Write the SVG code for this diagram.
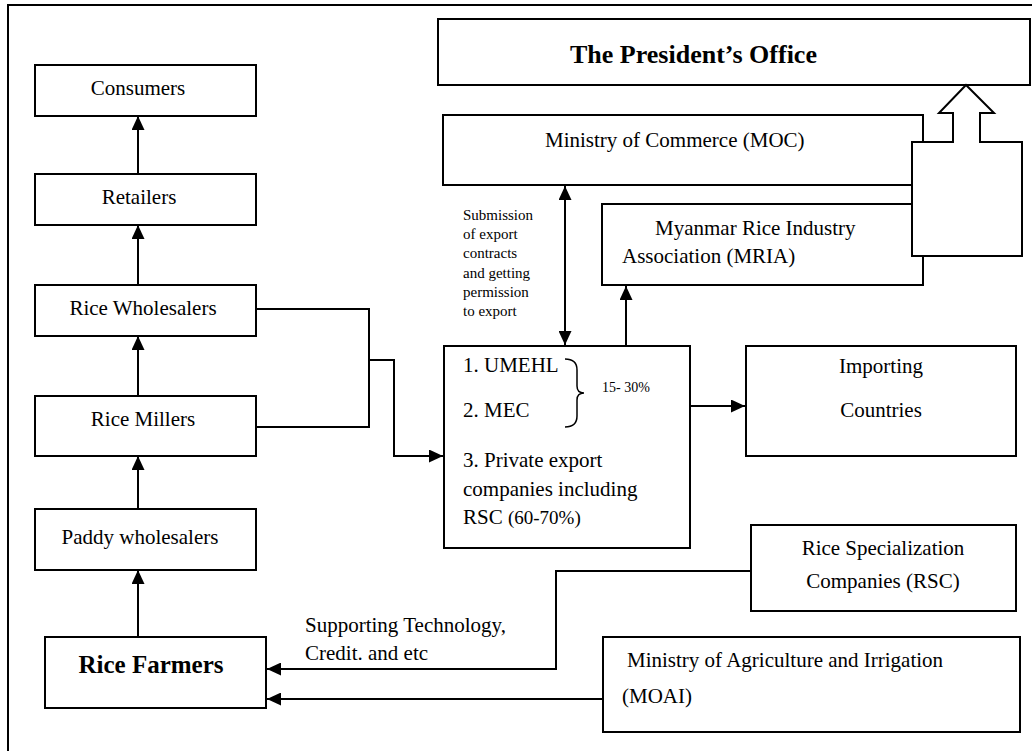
<svg xmlns="http://www.w3.org/2000/svg" width="1032" height="751" viewBox="0 0 1032 751">
  <style>
    .box { fill: #ffffff; stroke: #000000; stroke-width: 2; }
    .wire { fill: none; stroke: #000000; stroke-width: 2; }
    text { font-family: "Liberation Serif", "Times New Roman", serif; font-size: 21px; fill: #000000; }
    .mid { text-anchor: middle; }
    .bold { font-weight: bold; }
    .small { font-size: 15px; }
    .tiny { font-size: 14px; }
  </style>
  <defs>
    <marker id="head" markerUnits="userSpaceOnUse" markerWidth="14" markerHeight="13" refX="14" refY="6.5" orient="auto-start-reverse">
      <path d="M0,0 L14,6.5 L0,13 z" fill="#000000"/>
    </marker>
  </defs>

  <rect width="1032" height="751" fill="#ffffff"/>

  <!-- page frame -->
  <path class="wire" d="M8,751 L8,5 L1032,5"/>

  <!-- connectors -->
  <g id="connectors">
    <line class="wire" x1="138" y1="174" x2="138" y2="116" marker-end="url(#head)"/>
    <line class="wire" x1="138" y1="285" x2="138" y2="225" marker-end="url(#head)"/>
    <line class="wire" x1="138" y1="396" x2="138" y2="336" marker-end="url(#head)"/>
    <line class="wire" x1="138" y1="509" x2="138" y2="456" marker-end="url(#head)"/>
    <line class="wire" x1="138" y1="637" x2="138" y2="570" marker-end="url(#head)"/>
    <polyline class="wire" points="256,309 369,309 369,427 256,427"/>
    <polyline class="wire" points="369,360 394,360 394,456 443,456" marker-end="url(#head)"/>
    <line class="wire" x1="565" y1="186" x2="565" y2="345" marker-start="url(#head)" marker-end="url(#head)"/>
    <line class="wire" x1="626" y1="345" x2="626" y2="286" marker-end="url(#head)"/>
    <line class="wire" x1="690" y1="406" x2="745" y2="406" marker-end="url(#head)"/>
    <polyline class="wire" points="751,571 556,571 556,669 267,669" marker-end="url(#head)"/>
    <line class="wire" x1="603" y1="699" x2="267" y2="699" marker-end="url(#head)"/>
    <text class="small" x="463" y="220">Submission</text>
    <text class="small" x="463" y="239">of export</text>
    <text class="small" x="463" y="258">contracts</text>
    <text class="small" x="463" y="278">and getting</text>
    <text class="small" x="463" y="297">permission</text>
    <text class="small" x="463" y="316">to export</text>
    <text x="305" y="632">Supporting Technology,</text>
    <text x="305" y="660">Credit. and etc</text>
  </g>

  <g id="president">
    <rect class="box" x="438" y="19" width="592" height="66"/>
    <text class="bold" x="570" y="63" style="font-size:26px">The President’s Office</text>
  </g>

  <g id="consumers">
    <rect class="box" x="35" y="65" width="221" height="51"/>
    <text class="mid" x="138" y="95">Consumers</text>
  </g>
  <g id="retailers">
    <rect class="box" x="35" y="174" width="221" height="51"/>
    <text class="mid" x="139" y="204">Retailers</text>
  </g>
  <g id="rice-wholesalers">
    <rect class="box" x="35" y="285" width="221" height="51"/>
    <text class="mid" x="143" y="315">Rice Wholesalers</text>
  </g>
  <g id="rice-millers">
    <rect class="box" x="35" y="396" width="221" height="60"/>
    <text class="mid" x="143" y="426">Rice Millers</text>
  </g>
  <g id="paddy-wholesalers">
    <rect class="box" x="35" y="509" width="221" height="61"/>
    <text class="mid" x="140" y="544">Paddy wholesalers</text>
  </g>
  <g id="rice-farmers">
    <rect class="box" x="45" y="637" width="221" height="71"/>
    <text class="mid bold" x="151" y="673" style="font-size:25px">Rice Farmers</text>
  </g>

  <g id="moc">
    <rect class="box" x="443" y="115" width="480" height="70"/>
    <text x="545" y="147">Ministry of Commerce (MOC)</text>
  </g>
  <g id="mria">
    <rect class="box" x="602" y="204" width="321" height="81"/>
    <text x="655" y="235">Myanmar Rice Industry</text>
    <text x="622" y="263">Association (MRIA)</text>
  </g>

  <!-- block arrow rising into the President's Office -->
  <g id="block-arrow">
    <polygon class="box" points="912,142 953,142 953,113 939,113 966,85 994,113 980,113 980,142 1022,142 1022,256 912,256"/>
  </g>

  <g id="exporters">
    <rect class="box" x="444" y="346" width="246" height="202"/>
    <text x="463" y="372">1. UMEHL</text>
    <text x="463" y="417">2. MEC</text>
    <path class="wire" style="stroke-width:1.5" d="M565,359 Q577,359 577,370 L577,386 Q577,393 584,393 Q577,393 577,400 L577,416 Q577,427 565,427"/>
    <text class="tiny" x="602" y="392">15- 30%</text>
    <text x="463" y="467">3. Private export</text>
    <text x="463" y="496">companies including</text>
    <text x="463" y="524">RSC <tspan style="font-size:19px">(60-70%)</tspan></text>
  </g>

  <g id="importing">
    <rect class="box" x="746" y="346" width="270" height="110"/>
    <text class="mid" x="881" y="373">Importing</text>
    <text class="mid" x="881" y="417">Countries</text>
  </g>

  <g id="rsc">
    <rect class="box" x="751" y="525" width="265" height="86"/>
    <text class="mid" x="883" y="555">Rice Specialization</text>
    <text class="mid" x="883" y="588">Companies (RSC)</text>
  </g>

  <g id="moai">
    <rect class="box" x="603" y="637" width="417" height="95"/>
    <text x="627" y="667">Ministry of Agriculture and Irrigation</text>
    <text x="622" y="703">(MOAI)</text>
  </g>
</svg>
